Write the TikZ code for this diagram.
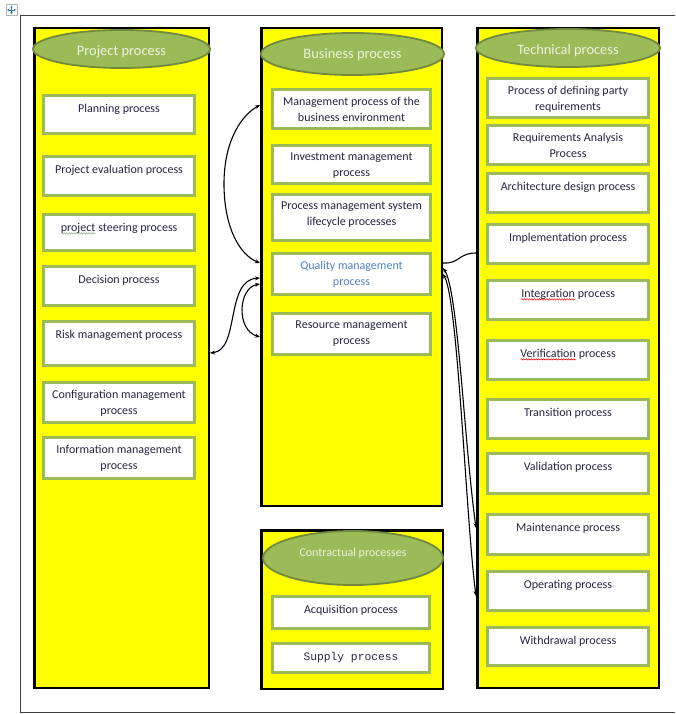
\documentclass[tikz,border=0pt]{standalone}
\usepackage{fontspec}
\setmainfont{Carlito}
\newfontfamily\monof{Liberation Mono}
\usetikzlibrary{shapes.geometric,arrows.meta,decorations.pathmorphing}
\definecolor{yel}{HTML}{FFFF00}
\definecolor{olivefill}{HTML}{9BBB59}
\definecolor{olivedark}{HTML}{71893F}
\definecolor{boxgreen}{HTML}{9BBB59}
\definecolor{txt}{HTML}{262640}
\definecolor{qblue}{HTML}{4F81BD}
\definecolor{ttl}{HTML}{EEF2E2}
\definecolor{squig}{HTML}{8FA88F}
\definecolor{movec}{HTML}{2F6FC0}
\tikzset{
  colbox/.style={draw=black, line width=2.5pt, fill=yel, rectangle, inner sep=0pt},
  titleell/.style={ellipse, draw=olivedark, line width=1.8pt, fill=olivefill, inner sep=0pt},
  titletext/.style={text=ttl, font=\fontsize{14.4}{16}\selectfont, inner sep=0pt},
  pboxs/.style={draw=boxgreen, line width=2.6pt, fill=white, rectangle, inner sep=0pt},
  ptext/.style={text=txt, font=\fontsize{12}{16}\selectfont, align=center, inner sep=0pt, anchor=north, execute at begin node={\rule{0pt}{9pt}}},
  conn/.style={black, line width=1.1pt},
  frameline/.style={black!75, line width=0.8pt}
}
\newcommand\pb[7][]{%
  \node[pboxs, minimum width={#5-#3-2.6}, minimum height={#6-#4-2.6}] (#2) at ({(#3+#5)/2},{(#4+#6)/2}) {};
  \node[ptext,#1] (#2t) at ([yshift=-9pt]#2.north) {#7};
}
\newcommand\colb[5]{%
  \node[colbox, minimum width={#4-#2-2.5}, minimum height={#5-#3-2.5}] (#1) at ({(#2+#4)/2},{(#3+#5)/2}) {};
}
\newcommand\sq[2]{\tikz[baseline=(sqw.base)]{\node[inner sep=0pt,outer sep=0pt,anchor=base] (sqw) at (0,0) {#2};
  \draw[#1, line width=0.5pt, decorate, decoration={snake, amplitude=0.7pt, segment length=2.5pt}] ([yshift=-2.2pt]sqw.base west) -- ([yshift=-2.2pt]sqw.base east);}}
\begin{document}
\begin{tikzpicture}[x=1pt, y=-1pt, >={Stealth[length=5pt,width=4pt]}]
\useasboundingbox (0,0) rectangle (675,714);
% outer frame
\draw[frameline] (675,15) -- (20,15) -- (20,712) -- (675,712);
% move handle
\node[draw=gray!60, fill=white, minimum size=11pt, inner sep=0pt, line width=0.5pt] (mv) at (11.5,10) {};
\draw[movec, line width=0.7pt, <->, >={Latex[length=2pt,width=2.5pt]}] ([xshift=-4.5pt]mv.center) -- ([xshift=4.5pt]mv.center);
\draw[movec, line width=0.7pt, <->, >={Latex[length=2pt,width=2.5pt]}] ([yshift=-4.5pt]mv.center) -- ([yshift=4.5pt]mv.center);

% columns
\colb{lcol}{33}{27}{210}{689}
\colb{mcol}{260}{27}{443}{507}
\colb{ccol}{260}{529}{444}{690}
\colb{rcol}{476}{27}{660}{689}

% title ellipses
\node[titleell, minimum width=177pt, minimum height=38pt] (e1) at (121.5,49) {};
\node[titletext] (e1t) at ([yshift=-3pt]e1.center) {Project process};
\node[titleell, minimum width=183pt, minimum height=42pt] (e2) at (352.5,54) {};
\node[titletext] (e2t) at ([yshift=-1pt]e2.center) {Business process};
\node[titleell, minimum width=184pt, minimum height=38pt] (e3) at (568,48) {};
\node[titletext] (e3t) at ([yshift=-3pt]e3.center) {Technical process};
\node[titleell, minimum width=180pt, minimum height=54pt] (e4) at (353,558) {};
\node[titletext, font=\fontsize{12}{14}\selectfont] (e4t) at ([yshift=5pt]e4.center) {Contractual processes};

% left boxes
\pb{L1}{42}{94}{196}{135}{Planning process}
\pb{L2}{42}{155}{196}{197}{Project evaluation process}
\pb{L3}{42}{213}{196}{252}{\sq{squig}{project} steering process}
\pb{L4}{42}{265}{196}{307}{Decision process}
\pb{L5}{42}{320}{196}{367}{Risk management process}
\pb{L6}{42}{381}{196}{424}{Configuration management\\process}
\pb{L7}{42}{436}{196}{480}{Information management\\process}

% middle boxes
\pb{M1}{271}{88}{432}{130}{Management process of the\\business environment}
\pb{M2}{271}{144}{432}{185}{Investment management\\process}
\pb{M3}{271}{193}{432}{242}{Process management system\\lifecycle processes}
\pb[text=qblue]{M4}{271}{252}{432}{296}{Quality management\\process}
\pb{M5}{271}{312}{432}{356}{Resource management\\process}

% contractual boxes
\pb{C1}{271}{595}{431}{630}{Acquisition process}
\pb[font=\monof\fontsize{11.3}{16}\selectfont]{C2}{271}{642}{431}{674}{Supply process}

% right boxes
\pb{R1}{486}{77}{650}{119}{Process of defining party\\requirements}
\pb{R2}{486}{124}{650}{166}{Requirements Analysis\\Process}
\pb{R3}{486}{172}{650}{214}{Architecture design process}
\pb{R4}{486}{223}{650}{265}{Implementation process}
\pb{R5}{486}{279}{650}{321}{\sq{red}{Integration} process}
\pb{R6}{486}{339}{650}{381}{\sq{red}{Verification} process}
\pb{R7}{486}{398}{650}{440}{Transition process}
\pb{R8}{486}{452}{650}{495}{Validation process}
\pb{R9}{486}{513}{650}{556}{Maintenance process}
\pb{R10}{486}{570}{650}{612}{Operating process}
\pb{R11}{486}{626}{650}{667}{Withdrawal process}

% connectors
\draw[conn, <->] (mcol.west |- 0,105) .. controls (242,115) and (224,140) .. (224,184) .. controls (224,228) and (240,255) .. (mcol.west |- 0,263);
\draw[conn, <->] (lcol.east |- 0,353) .. controls (240,350) and (225,280) .. (mcol.west |- 0,278);
\draw[conn, <->] (mcol.west |- 0,284) .. controls (238,288) and (236,330) .. (mcol.west |- 0,337);
\draw[conn] (mcol.east |- 0,263) .. controls (460,264) and (458,253) .. (rcol.west |- 0,253);
\draw[conn, <->] (mcol.east |- 0,268) .. controls (458,290) and (464,440) .. (rcol.west |- 0,528);
\draw[conn, <->] (mcol.east |- 0,274) .. controls (458,300) and (466,520) .. (rcol.west |- 0,596);
\end{tikzpicture}
\end{document}
